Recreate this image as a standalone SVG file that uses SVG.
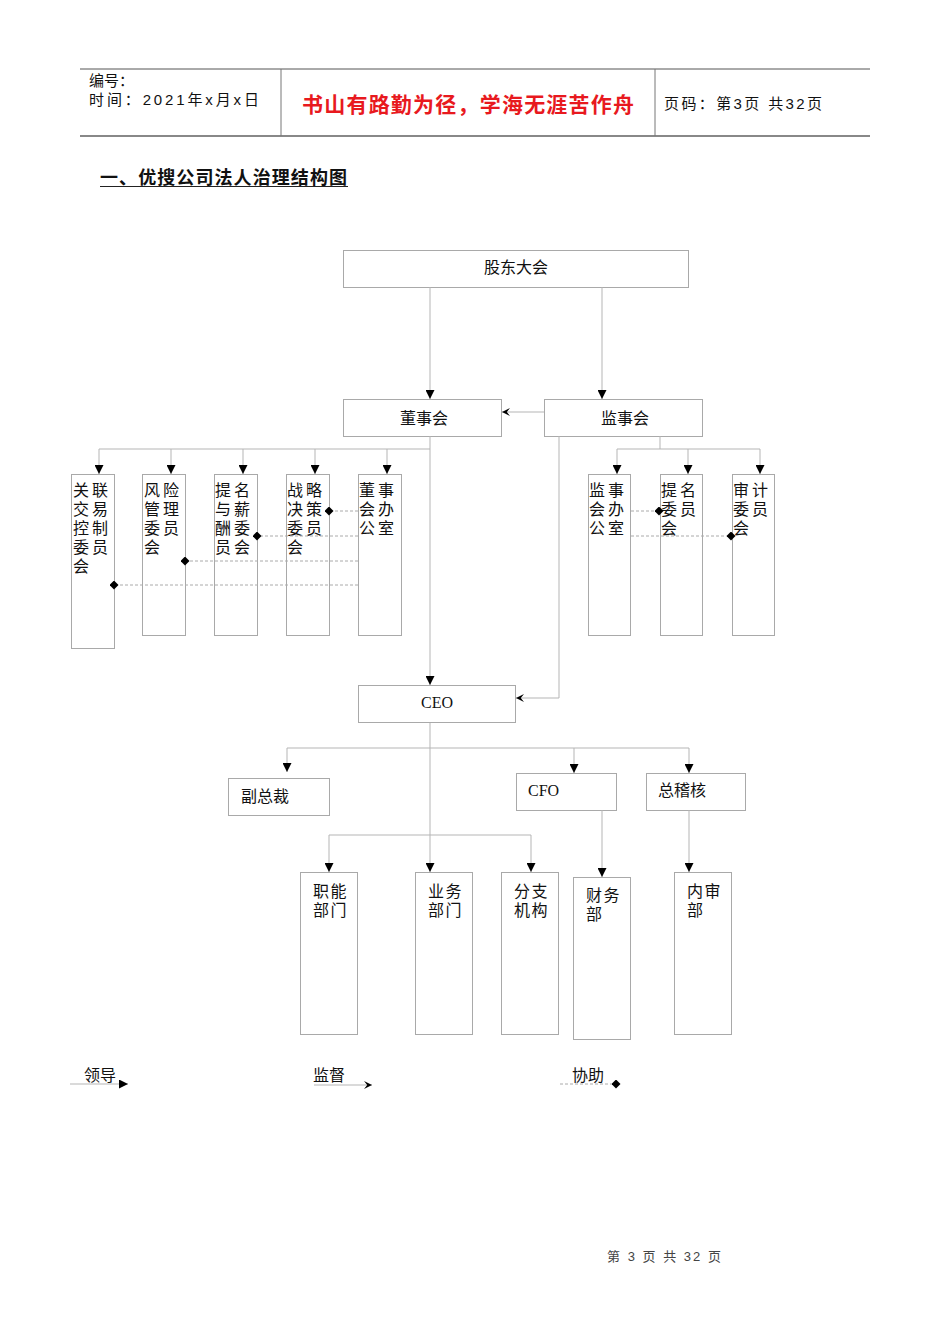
<svg xmlns="http://www.w3.org/2000/svg" width="950" height="1344" viewBox="0 0 950 1344">
<style>
.bg{fill:#fff}
.box{fill:#fff;stroke:#a9a9a9;stroke-width:1}
.ln{fill:none;stroke:#b5b5b5;stroke-width:1}
.dash{fill:none;stroke:#aaa;stroke-width:1;stroke-dasharray:3,2}
.t{font-family:"Liberation Serif","Noto Sans CJK SC",serif;font-size:16px;fill:#111}
.v{font-family:"Liberation Serif","Noto Sans CJK SC",serif;font-size:16px;fill:#111;letter-spacing:3px}
.b{font-family:"Liberation Serif","Noto Sans CJK SC",serif;font-size:16px;fill:#111;letter-spacing:1.5px}
.h{font-family:"Liberation Sans","Noto Sans CJK SC",sans-serif;font-size:15px;fill:#111}
</style>
<defs>
<marker id="tri" viewBox="0 0 10 10" refX="10" refY="5" markerWidth="9" markerHeight="9" markerUnits="userSpaceOnUse" orient="auto"><path d="M0,0 L10,5 L0,10 z" fill="#000"/></marker>
<marker id="open" viewBox="0 0 10 10" refX="10" refY="5" markerWidth="8" markerHeight="8" markerUnits="userSpaceOnUse" orient="auto"><path d="M0,0 L10,5 L0,10 L4,5 z" fill="#000"/></marker>
<marker id="dia" viewBox="0 0 10 10" refX="5" refY="5" markerWidth="9" markerHeight="9" markerUnits="userSpaceOnUse" orient="auto"><path d="M0,5 L5,0 L10,5 L5,10 z" fill="#000"/></marker>
</defs>
<rect class="bg" x="0" y="0" width="950" height="1344"/>

<g id="header">
<line x1="80" y1="69" x2="870" y2="69" stroke="#555" stroke-width="1"/>
<line x1="80" y1="136" x2="870" y2="136" stroke="#888" stroke-width="2"/>
<line x1="281" y1="69" x2="281" y2="136" stroke="#777" stroke-width="1"/>
<line x1="655" y1="69" x2="655" y2="136" stroke="#777" stroke-width="1"/>
<text class="h" x="89" y="86">编号：</text>
<text class="h" x="89" y="105" textLength="170">时间：2021年x月x日</text>
<text x="302" y="112" font-family="Liberation Sans,'Noto Sans CJK SC',sans-serif" font-size="21" font-weight="bold" fill="#e8191e" textLength="332">书山有路勤为径，学海无涯苦作舟</text>
<text class="h" x="664" y="109" textLength="158">页码：第3页 共32页</text>
</g>

<g id="title">
<text x="100" y="184" font-family="Liberation Sans,'Noto Sans CJK SC',sans-serif" font-size="18" font-weight="bold" fill="#111" textLength="247">一、优搜公司法人治理结构图</text>
<line x1="100" y1="186.5" x2="348" y2="186.5" stroke="#222" stroke-width="1.2"/>
</g>

<g id="n-gudong"><rect class="box" x="343.5" y="250.5" width="345" height="37"/><text class="t" x="516" y="273" text-anchor="middle">股东大会</text></g>
<g id="n-dongshihui"><rect class="box" x="343.5" y="399.5" width="158" height="37"/><text class="t" x="424" y="424" text-anchor="middle">董事会</text></g>
<g id="n-jianshihui"><rect class="box" x="544.5" y="399.5" width="158" height="37"/><text class="t" x="625" y="424" text-anchor="middle">监事会</text></g>

<g id="n-guanlian"><rect class="box" x="71.5" y="474.5" width="43" height="174"/>
<text class="v" x="73" y="496">关联</text><text class="v" x="73" y="515">交易</text><text class="v" x="73" y="534">控制</text><text class="v" x="73" y="553">委员</text><text class="v" x="73" y="572">会</text></g>
<g id="n-fengxian"><rect class="box" x="142.5" y="474.5" width="43" height="161"/>
<text class="v" x="144" y="496">风险</text><text class="v" x="144" y="515">管理</text><text class="v" x="144" y="534">委员</text><text class="v" x="144" y="553">会</text></g>
<g id="n-timingxinchou"><rect class="box" x="214.5" y="474.5" width="43" height="161"/>
<text class="v" x="215" y="496">提名</text><text class="v" x="215" y="515">与薪</text><text class="v" x="215" y="534">酬委</text><text class="v" x="215" y="553">员会</text></g>
<g id="n-zhanlue"><rect class="box" x="286.5" y="474.5" width="43" height="161"/>
<text class="v" x="287" y="496">战略</text><text class="v" x="287" y="515">决策</text><text class="v" x="287" y="534">委员</text><text class="v" x="287" y="553">会</text></g>
<g id="n-dongban"><rect class="box" x="358.5" y="474.5" width="43" height="161"/>
<text class="v" x="359" y="496">董事</text><text class="v" x="359" y="515">会办</text><text class="v" x="359" y="534">公室</text></g>

<g id="n-jianban"><rect class="box" x="588.5" y="474.5" width="42" height="161"/>
<text class="v" x="589" y="496">监事</text><text class="v" x="589" y="515">会办</text><text class="v" x="589" y="534">公室</text></g>
<g id="n-timing"><rect class="box" x="660.5" y="474.5" width="42" height="161"/>
<text class="v" x="661" y="496">提名</text><text class="v" x="661" y="515">委员</text><text class="v" x="661" y="534">会</text></g>
<g id="n-shenji"><rect class="box" x="732.5" y="474.5" width="42" height="161"/>
<text class="v" x="733" y="496">审计</text><text class="v" x="733" y="515">委员</text><text class="v" x="733" y="534">会</text></g>

<g id="n-ceo"><rect class="box" x="358.5" y="685.5" width="157" height="37"/><text class="t" x="437" y="708" text-anchor="middle">CEO</text></g>
<g id="n-fuzongcai"><rect class="box" x="228.5" y="778.5" width="101" height="37"/><text class="t" x="241" y="802">副总裁</text></g>
<g id="n-cfo"><rect class="box" x="516.5" y="773.5" width="100" height="37"/><text class="t" x="528" y="796">CFO</text></g>
<g id="n-zongjihe"><rect class="box" x="646.5" y="773.5" width="99" height="37"/><text class="t" x="658" y="796">总稽核</text></g>

<g id="n-zhineng"><rect class="box" x="300.5" y="872.5" width="57" height="162"/><text class="b" x="313" y="897">职能</text><text class="b" x="313" y="916">部门</text></g>
<g id="n-yewu"><rect class="box" x="415.5" y="872.5" width="57" height="162"/><text class="b" x="428" y="897">业务</text><text class="b" x="428" y="916">部门</text></g>
<g id="n-fenzhi"><rect class="box" x="501.5" y="872.5" width="57" height="162"/><text class="b" x="514" y="897">分支</text><text class="b" x="514" y="916">机构</text></g>
<g id="n-caiwu"><rect class="box" x="573.5" y="877.5" width="57" height="162"/><text class="b" x="586" y="901">财务</text><text class="b" x="586" y="920">部</text></g>
<g id="n-neishen"><rect class="box" x="674.5" y="872.5" width="57" height="162"/><text class="b" x="687" y="897">内审</text><text class="b" x="687" y="916">部</text></g>

<g id="connectors">
<line class="ln" x1="430" y1="287" x2="430" y2="399" marker-end="url(#tri)"/>
<line class="ln" x1="602" y1="287" x2="602" y2="399" marker-end="url(#tri)"/>
<line class="ln" x1="544" y1="412" x2="502" y2="412" marker-end="url(#open)"/>
<line class="ln" x1="99" y1="449" x2="430" y2="449"/>
<line class="ln" x1="99" y1="449" x2="99" y2="474" marker-end="url(#tri)"/>
<line class="ln" x1="171" y1="449" x2="171" y2="474" marker-end="url(#tri)"/>
<line class="ln" x1="243" y1="449" x2="243" y2="474" marker-end="url(#tri)"/>
<line class="ln" x1="315" y1="449" x2="315" y2="474" marker-end="url(#tri)"/>
<line class="ln" x1="387" y1="449" x2="387" y2="474" marker-end="url(#tri)"/>
<line class="ln" x1="430" y1="436" x2="430" y2="685" marker-end="url(#tri)"/>
<line class="ln" x1="660" y1="436" x2="660" y2="449"/>
<line class="ln" x1="617" y1="449" x2="760" y2="449"/>
<line class="ln" x1="617" y1="449" x2="617" y2="474" marker-end="url(#tri)"/>
<line class="ln" x1="688" y1="449" x2="688" y2="474" marker-end="url(#tri)"/>
<line class="ln" x1="760" y1="449" x2="760" y2="474" marker-end="url(#tri)"/>
<polyline class="ln" points="559,436 559,698 516,698" marker-end="url(#open)"/>
<line class="dash" x1="358" y1="511" x2="329" y2="511" marker-end="url(#dia)"/>
<line class="dash" x1="358" y1="536" x2="257" y2="536" marker-end="url(#dia)"/>
<line class="dash" x1="358" y1="561" x2="185" y2="561" marker-end="url(#dia)"/>
<line class="dash" x1="358" y1="585" x2="114" y2="585" marker-end="url(#dia)"/>
<line class="dash" x1="631" y1="511" x2="659" y2="511" marker-end="url(#dia)"/>
<line class="dash" x1="631" y1="536" x2="731" y2="536" marker-end="url(#dia)"/>
<line class="ln" x1="287" y1="748" x2="689" y2="748"/>
<line class="ln" x1="287" y1="748" x2="287" y2="772" marker-end="url(#tri)"/>
<line class="ln" x1="574" y1="748" x2="574" y2="773" marker-end="url(#tri)"/>
<line class="ln" x1="689" y1="748" x2="689" y2="773" marker-end="url(#tri)"/>
<line class="ln" x1="430" y1="723" x2="430" y2="872" marker-end="url(#tri)"/>
<line class="ln" x1="329" y1="835" x2="531" y2="835"/>
<line class="ln" x1="329" y1="835" x2="329" y2="872" marker-end="url(#tri)"/>
<line class="ln" x1="531" y1="835" x2="531" y2="872" marker-end="url(#tri)"/>
<line class="ln" x1="602" y1="810" x2="602" y2="877" marker-end="url(#tri)"/>
<line class="ln" x1="689" y1="810" x2="689" y2="872" marker-end="url(#tri)"/>
</g>

<g id="legend">
<line class="ln" x1="70" y1="1084" x2="128" y2="1084" marker-end="url(#tri)"/>
<text class="t" x="84" y="1081">领导</text>
<line class="ln" x1="314" y1="1085" x2="372" y2="1085" marker-end="url(#open)"/>
<text class="t" x="313" y="1081">监督</text>
<line class="dash" x1="560" y1="1084" x2="616" y2="1084" marker-end="url(#dia)"/>
<text class="t" x="572" y="1081">协助</text>
</g>

<g id="footer">
<text x="607" y="1261" font-family="Liberation Sans,'Noto Sans CJK SC',sans-serif" font-size="13" fill="#444" textLength="114">第 3 页 共 32 页</text>
</g>
</svg>
